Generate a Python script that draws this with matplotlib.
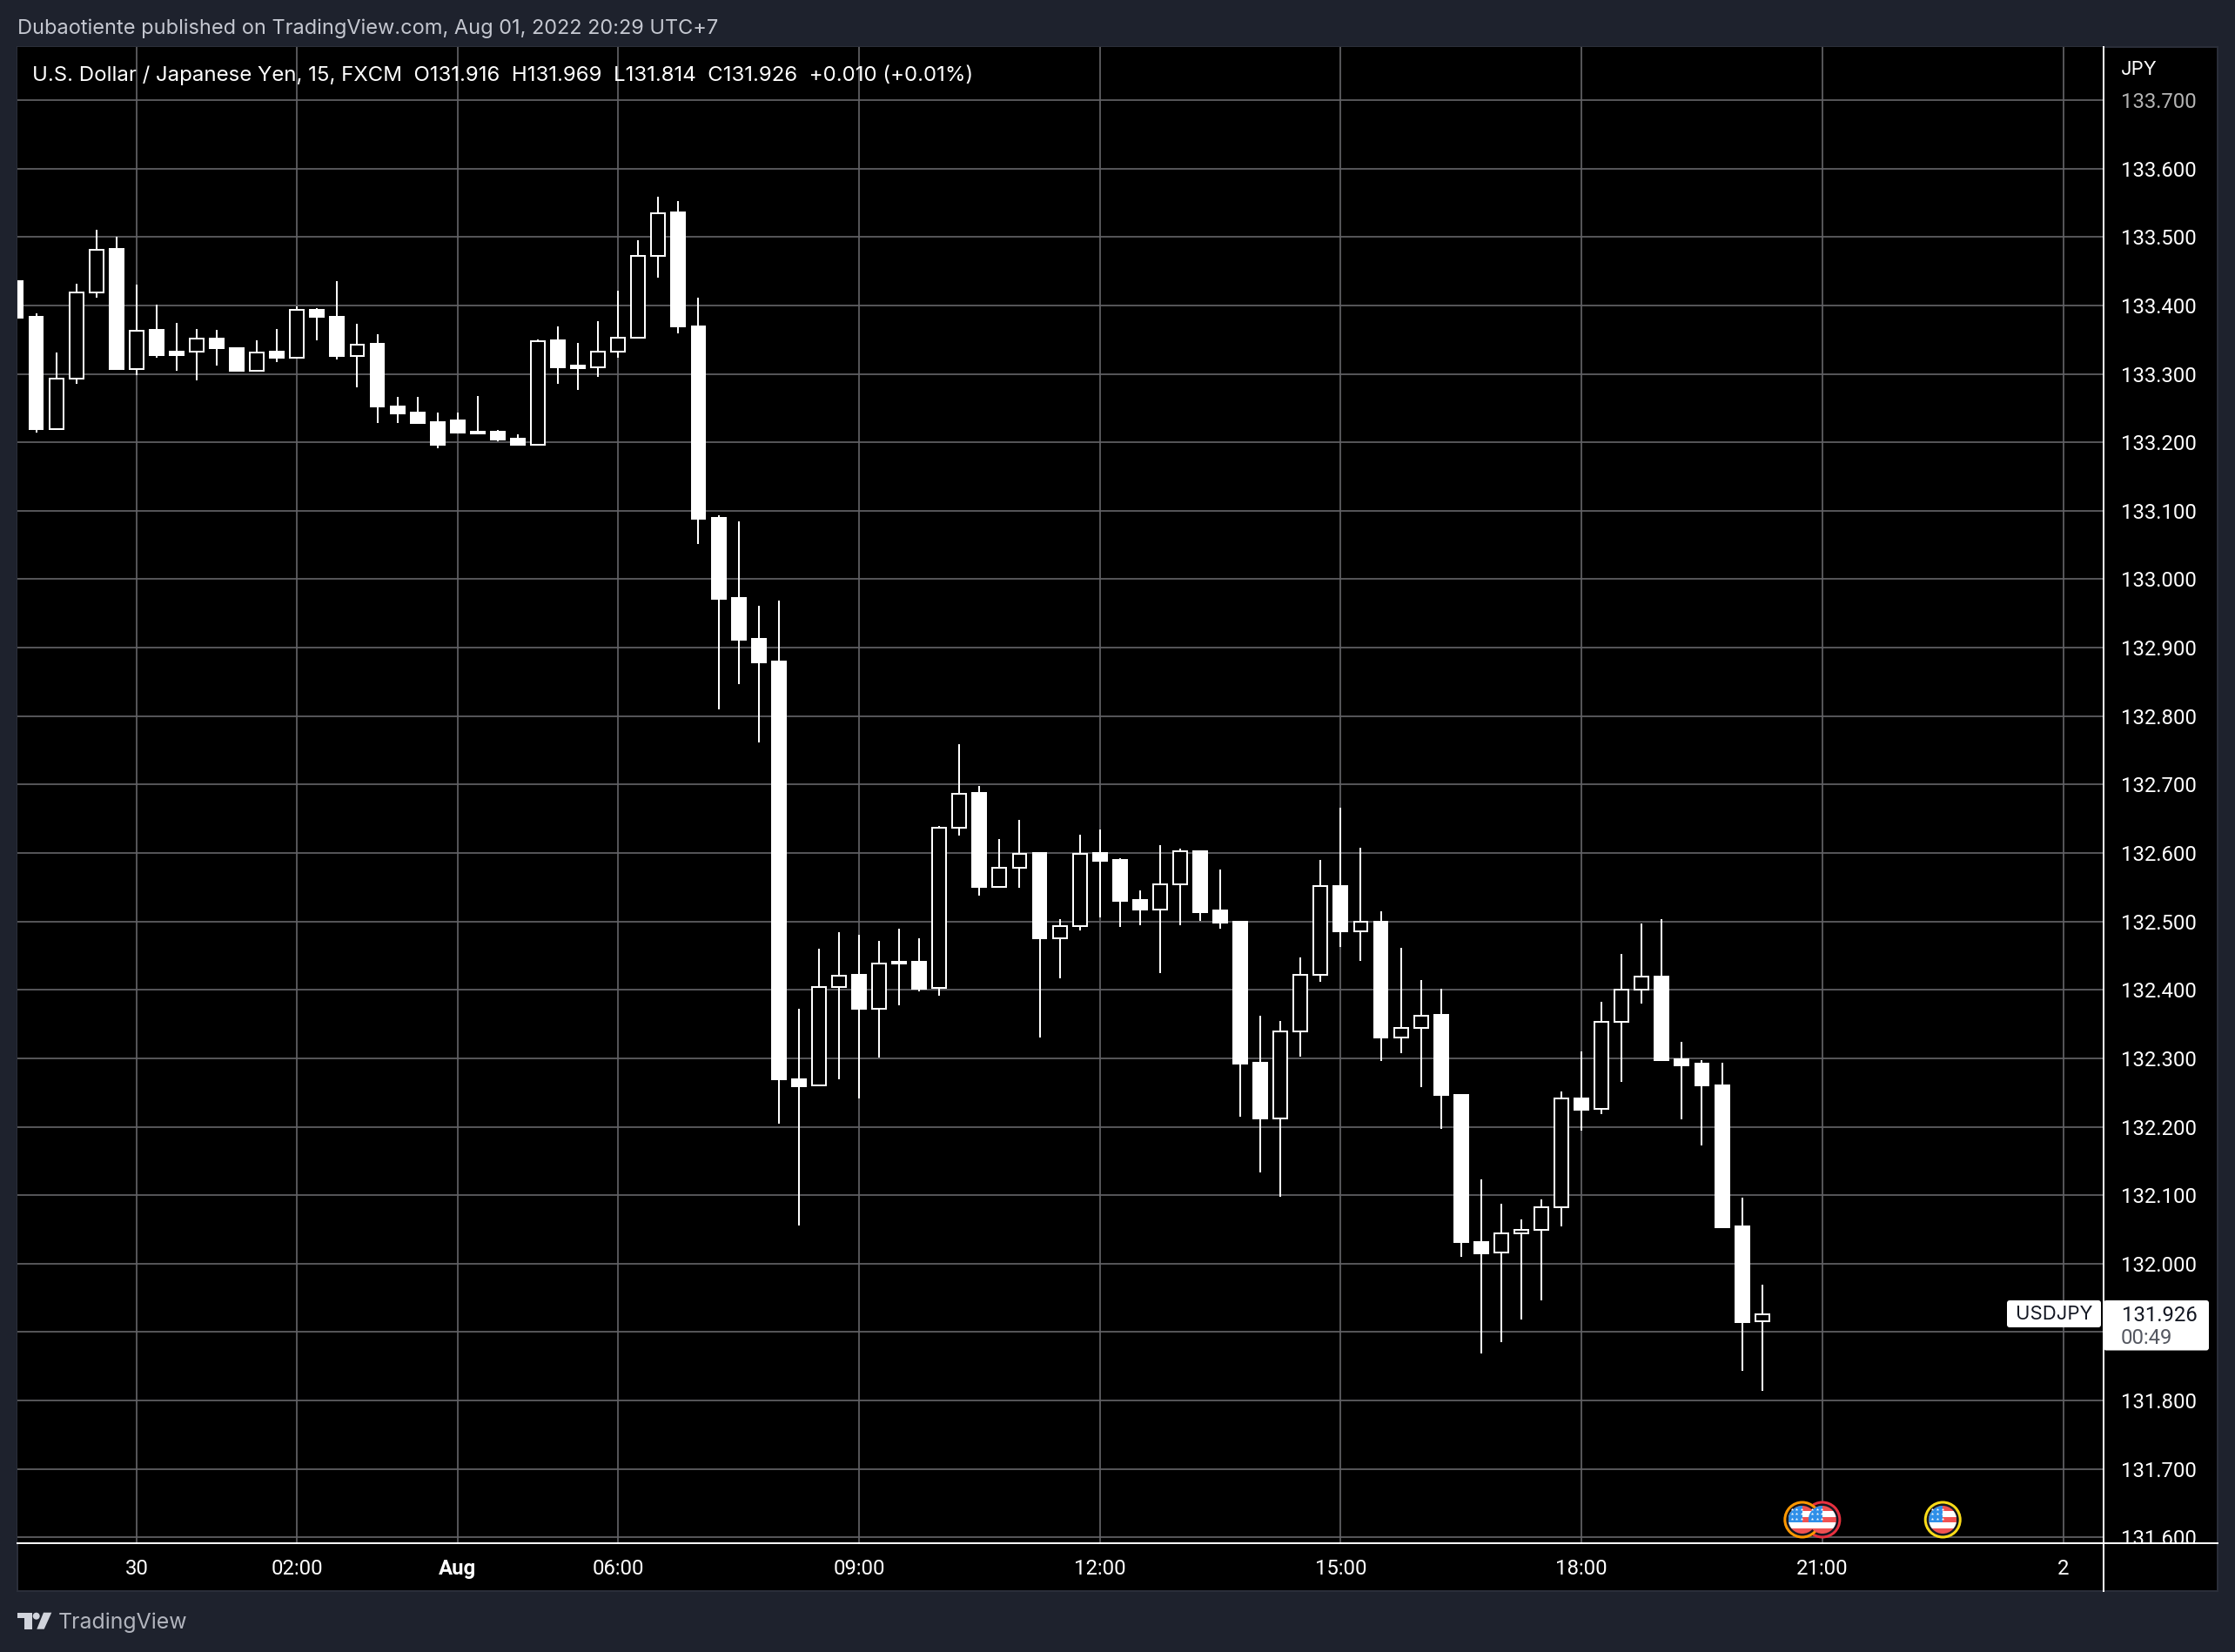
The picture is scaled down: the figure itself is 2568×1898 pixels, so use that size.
import matplotlib
matplotlib.use('Agg')

import matplotlib.pyplot as plt
from matplotlib.patches import Circle, FancyBboxPatch, Polygon, Rectangle
from matplotlib.transforms import Bbox

W, H = 2568, 1898

# ==========================
# Data (USD/JPY 15 min), bar 0 = 06:00
# ==========================
first_bar = -30

opens = [133.436, 133.383, 133.219, 133.293, 133.419, 133.482, 133.307, 133.364, 133.333, 133.333,
         133.352, 133.338, 133.304, 133.332, 133.324, 133.393, 133.384, 133.326, 133.344, 133.253,
         133.243, 133.229, 133.232, 133.213, 133.215, 133.205, 133.196, 133.349, 133.312, 133.309,
         133.333, 133.353, 133.473, 133.536, 133.370, 133.090, 132.973, 132.913, 132.880, 132.270,
         132.260, 132.404, 132.422, 132.373, 132.438, 132.441, 132.403, 132.637, 132.688, 132.551,
         132.578, 132.600, 132.476, 132.493, 132.600, 132.590, 132.532, 132.518, 132.554, 132.603,
         132.516, 132.499, 132.293, 132.212, 132.339, 132.422, 132.552, 132.486, 132.500, 132.330,
         132.345, 132.363, 132.247, 132.032, 132.016, 132.044, 132.049, 132.082, 132.242, 132.226,
         132.353, 132.400, 132.420, 132.299, 132.292, 132.261, 132.055, 131.916]
highs = [133.436, 133.389, 133.331, 133.432, 133.510, 133.501, 133.430, 133.401, 133.374, 133.365,
         133.364, 133.338, 133.349, 133.366, 133.399, 133.396, 133.436, 133.373, 133.358, 133.267,
         133.267, 133.243, 133.244, 133.268, 133.218, 133.212, 133.350, 133.370, 133.345, 133.377,
         133.421, 133.495, 133.559, 133.552, 133.411, 133.093, 133.085, 132.961, 132.969, 132.373,
         132.460, 132.484, 132.481, 132.471, 132.490, 132.475, 132.640, 132.759, 132.698, 132.621,
         132.648, 132.600, 132.503, 132.627, 132.635, 132.593, 132.545, 132.612, 132.607, 132.603,
         132.576, 132.499, 132.362, 132.354, 132.448, 132.590, 132.666, 132.608, 132.515, 132.462,
         132.415, 132.402, 132.248, 132.123, 132.088, 132.065, 132.094, 132.251, 132.310, 132.383,
         132.453, 132.497, 132.504, 132.324, 132.298, 132.294, 132.097, 131.969]
lows = [133.382, 133.214, 133.219, 133.285, 133.411, 133.307, 133.298, 133.324, 133.305, 133.291,
        133.312, 133.304, 133.304, 133.317, 133.324, 133.349, 133.321, 133.281, 133.228, 133.228,
        133.228, 133.192, 133.214, 133.213, 133.201, 133.196, 133.196, 133.285, 133.276, 133.296,
        133.323, 133.353, 133.440, 133.359, 133.051, 132.810, 132.847, 132.762, 132.205, 132.056,
        132.260, 132.270, 132.242, 132.301, 132.378, 132.398, 132.392, 132.626, 132.538, 132.551,
        132.549, 132.331, 132.417, 132.487, 132.506, 132.492, 132.495, 132.425, 132.494, 132.501,
        132.490, 132.215, 132.133, 132.098, 132.302, 132.412, 132.463, 132.442, 132.296, 132.308,
        132.258, 132.197, 132.010, 131.869, 131.886, 131.918, 131.946, 132.055, 132.195, 132.219,
        132.265, 132.380, 132.298, 132.211, 132.173, 132.053, 131.844, 131.814]
closes = [133.382, 133.219, 133.293, 133.419, 133.481, 133.307, 133.363, 133.328, 133.328, 133.352,
          133.337, 133.304, 133.331, 133.323, 133.393, 133.383, 133.326, 133.343, 133.252, 133.242,
          133.228, 133.196, 133.214, 133.216, 133.204, 133.196, 133.348, 133.310, 133.308, 133.333,
          133.353, 133.472, 133.535, 133.369, 133.088, 132.972, 132.912, 132.879, 132.269, 132.259,
          132.404, 132.421, 132.372, 132.438, 132.441, 132.402, 132.637, 132.687, 132.550, 132.578,
          132.599, 132.475, 132.493, 132.599, 132.589, 132.530, 132.518, 132.554, 132.603, 132.514,
          132.498, 132.292, 132.212, 132.339, 132.422, 132.552, 132.485, 132.500, 132.330, 132.345,
          132.362, 132.246, 132.031, 132.015, 132.044, 132.049, 132.082, 132.241, 132.225, 132.353,
          132.400, 132.419, 132.298, 132.290, 132.260, 132.053, 131.915, 131.926]

# axis ticks
time_bars = [-24, -16, -8, 0, 12, 24, 36, 48, 60, 72]
time_labels = ["30", "02:00", "Aug", "06:00", "09:00", "12:00", "15:00", "18:00", "21:00", "2"]
price_ticks = [131.6, 131.7, 131.8, 131.9, 132.0, 132.1, 132.2, 132.3, 132.4, 132.5,
               132.6, 132.7, 132.8, 132.9, 133.0, 133.1, 133.2, 133.3, 133.4, 133.5, 133.6, 133.7]
hidden_price_labels = [131.9]   # covered by the last price box

# economic events
event_bars = [60, 59, 66]
event_colors = ["#e8303f", "#ff9800", "#fbdc18"]

header = "U.S. Dollar / Japanese Yen, 15, FXCM  O131.916  H131.969  L131.814  C131.926  +0.010 (+0.01%)"
published = "Dubaotiente published on TradingView.com, Aug 01, 2022 20:29 UTC+7"
last_close = "131.926"
countdown = "00:49"

# ==========================
# Style
# ==========================
BG = "#1e222d"
GRID = "#636367"
FONT = ["Inter", "Liberation Sans", "DejaVu Sans"]
SCALE_FONT = ["Roboto", "DejaVu Sans"]
FS = 15.9
SCALE_FS = 17.2
PX = 0.72       # 1 pixel in points at dpi 100

plt.rcParams['font.family'] = FONT

fig = plt.figure(figsize=(W / 100, H / 100), dpi=100, facecolor=BG)


def axes_box(left, top, right, bottom):
    return [left / W, 1 - bottom / H, (right - left) / W, (bottom - top) / H]


# panel behind axes (price scale + time scale)
back = fig.add_axes(axes_box(20.3, 54, 2548, 1827.7), facecolor="black")
back.set_xticks([])
back.set_yticks([])
for s in back.spines.values():
    s.set_color("#2a2e39")
    s.set_linewidth(2 * PX)

ax = fig.add_axes(axes_box(20.3, 54, 2416.7, 1772.7), facecolor="black")
ax.set_xlim(-29.92, 74.0)
ax.set_ylim(131.592, 133.7776)

# ==========================
# Candles
# ==========================
bars = list(range(first_bar, first_bar + len(opens)))

ax.vlines(bars, lows, highs, color="white", lw=2 * PX, zorder=3)
for bar, o, c in zip(bars, opens, closes):
    up = c > o
    ax.bar(bar, abs(c - o), bottom=min(o, c), width=0.69,
           facecolor="black" if up else "white",
           edgecolor="white", linewidth=2 * PX, zorder=4)

# ==========================
# Grid and axes
# ==========================
ax.set_xticks(time_bars)
ax.set_xticklabels(time_labels, family=SCALE_FONT)
ax.set_yticks(price_ticks)
ax.set_yticklabels(["" if p in hidden_price_labels else f"{p:.3f}" for p in price_ticks],
                   family=SCALE_FONT)
ax.yaxis.tick_right()
ax.grid(True, color=GRID, lw=1.7 * PX, zorder=1)
ax.set_axisbelow(True)
ax.tick_params(axis="both", length=0, labelsize=SCALE_FS, labelcolor="white")
ax.tick_params(axis="x", pad=13.5)
ax.tick_params(axis="y", pad=14.4)

for s in ax.spines.values():
    s.set_visible(False)

# price labels stop at the time scale line
clip_box = Bbox.from_extents(0, H - 1772.7, W, H - 90)
for t, p in zip(ax.get_yticklabels(), price_ticks):
    t.set_clip_box(clip_box)
    t.set_clip_on(True)
    if p == 133.7:
        t.set_color("#b4b4b4")

for t, name in zip(ax.get_xticklabels(), time_labels):
    if name == "Aug":
        t.set_fontweight("bold")

# scale lines
over = fig.add_axes([0, 0, 1, 1], facecolor="none")
over.set_xlim(0, W)
over.set_ylim(H, 0)
over.axis("off")
over.plot([2416.7, 2416.7], [54, 1827.7], color="white", lw=2 * PX, zorder=5)
over.plot([20.3, 2548], [1772.7, 1772.7], color="white", lw=2 * PX, zorder=5)

# ==========================
# Texts
# ==========================
over.text(37, 86, header, color="white", fontsize=17.3, va="center", ha="left")
over.text(20, 33, published, color="#c4c7d0", fontsize=16.94, va="center", ha="left")
over.text(67, 1864, "TradingView", color="#b2b5be", fontsize=17.9, va="center", ha="left")
over.text(2436.7, 80, "JPY", color="white", fontsize=FS, va="center", ha="left")

# last price boxes
over.add_patch(FancyBboxPatch((2308, 1496), 104, 27, boxstyle="round,pad=2,rounding_size=3",
                              facecolor="white", edgecolor="none", zorder=6))
over.add_patch(FancyBboxPatch((2419, 1496), 117, 53.5, boxstyle="round,pad=2,rounding_size=3",
                              facecolor="white", edgecolor="none", zorder=6))
over.text(2360, 1510, "USDJPY", color="#131722", fontsize=FS, va="center", ha="center", zorder=7)
over.text(2438, 1511, last_close, color="#131722", fontsize=SCALE_FS, family=SCALE_FONT,
          va="center", ha="left", zorder=7)
over.text(2437, 1537, countdown, color="#555861", fontsize=SCALE_FS, family=SCALE_FONT,
          va="center", ha="left", zorder=7)

# logo
logo = "#d1d4dc"
over.add_patch(Polygon([(20, 1852.7), (36.7, 1852.7), (36.7, 1871.7), (27.7, 1871.7), (27.7, 1858.5), (20, 1858.5)],
                       facecolor=logo, edgecolor="none"))
over.add_patch(Circle((41.7, 1856.7), 4, facecolor=logo, edgecolor="none"))
over.add_patch(Polygon([(50, 1852.7), (59.3, 1852.7), (50.7, 1871.7), (42.3, 1871.7)],
                       facecolor=logo, edgecolor="none"))


# ==========================
# Event flags
# ==========================
def draw_flag(bar, color, y=1746):
    x, _ = ax.transData.transform((bar, ax.get_ylim()[0]))
    over.add_patch(Circle((x, y), 20, facecolor="#131722", edgecolor=color, lw=3 * PX, zorder=8))
    r = 16
    clip = Circle((x, y), r, transform=over.transData)
    stripes = ["#f05252", "white", "#f05252", "white", "#f05252"]
    h = 2 * r / len(stripes)
    for k, col in enumerate(stripes):
        p = over.add_patch(Rectangle((x - r, y - r + k * h), 2 * r, h, facecolor=col, edgecolor="none", zorder=9))
        p.set_clip_path(clip)
    p = over.add_patch(Rectangle((x - r, y - r), r, 3 * h, facecolor="#2f8fe8", edgecolor="none", zorder=10))
    p.set_clip_path(clip)
    for dx in (-12, -6.3, -0.6):
        for dy in (-11.6, -6.6, -1.3):
            over.plot(x + dx, y + dy, marker="*", ms=2.6, color="white", mew=0, zorder=11)


for bar, color in zip(event_bars, event_colors):
    draw_flag(bar, color)

fig.savefig("out.png", dpi=100, facecolor=BG)
plt.close()
